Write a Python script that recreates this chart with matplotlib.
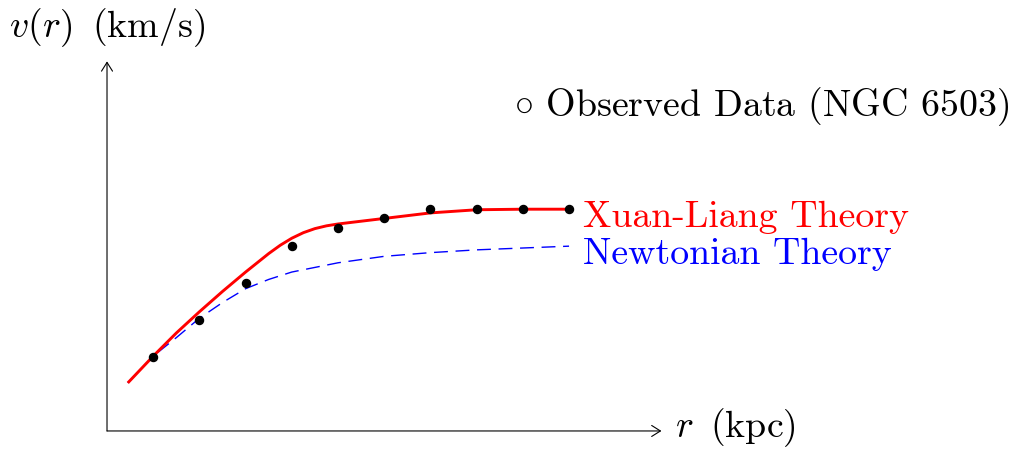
import matplotlib.pyplot as plt

plt.rcParams["font.family"] = "serif"
plt.rcParams["font.serif"] = ["cmr10"]
plt.rcParams["mathtext.fontset"] = "cm"
plt.rcParams["axes.formatter.use_mathtext"] = True

# Observed rotation curve of NGC 6503
r_obs = [1, 2, 3, 4, 5, 6, 7, 8, 9, 10]
v_obs = [40, 60, 80, 100, 110, 115, 120, 120, 120, 120]

# Xuan-Liang model curve
r_xl = [0.45, 1, 1.5, 2, 2.5, 3, 3.5, 3.75, 4, 4.25, 4.5, 4.75, 5, 5.5, 6, 7, 8, 9, 10]
v_xl = [26, 40.5, 53, 64.5, 75.5, 86, 96, 100.5, 104.3, 107.3, 109.5, 111, 112, 113.5, 115, 118, 119.7, 120, 120]

# Newtonian model curve
r_nt = [0.45, 1, 1.5, 2, 2.5, 3, 3.5, 4, 4.5, 5, 6, 7, 8, 9, 10]
v_nt = [26, 40.5, 50.5, 61, 69.5, 77, 82, 86, 88.5, 91, 94.5, 96.5, 98, 99, 100]

fig = plt.figure(figsize=(10.14, 4.5), dpi=100)
ax = fig.add_axes([0, 0, 1, 1])
ax.set_xlim(-2.316, 19.63)
ax.set_ylim(-10.3, 233.2)
ax.axis("off")

# axes with arrow heads
arrow = dict(arrowstyle="->,head_length=0.35,head_width=0.22", lw=0.8, color="black",
             shrinkA=0, shrinkB=0, mutation_scale=18)
ax.annotate("", xy=(12, 0), xytext=(0, 0), arrowprops=arrow)
ax.annotate("", xy=(0, 200), xytext=(0, 0), arrowprops=arrow)

ax.plot(r_nt, v_nt, color="blue", lw=1.0, ls=(0, (10, 5.5)))
ax.plot(r_xl, v_xl, color="red", lw=2.1, solid_capstyle="butt", solid_joinstyle="round")
ax.plot(r_obs, v_obs, "o", color="black", ms=5.8, zorder=5)

fs = 27.3
ax.text(0, 212.9, r"$v(r)\,$ (km/s)", fontsize=fs, ha="center", va="baseline")
ax.text(12.3, -3.3, r"$r\,$ (kpc)", fontsize=fs, ha="left", va="baseline")
ax.text(10.3, 110.4, "Xuan-Liang Theory", fontsize=fs, color="red", ha="left", va="baseline")
ax.text(10.3, 90.4, "Newtonian Theory", fontsize=fs, color="blue", ha="left", va="baseline")
ax.text(8.8, 170.5, r"$\circ$ Observed Data (NGC 6503)", fontsize=fs, ha="left", va="baseline")

fig.savefig("out.png", dpi=100)
